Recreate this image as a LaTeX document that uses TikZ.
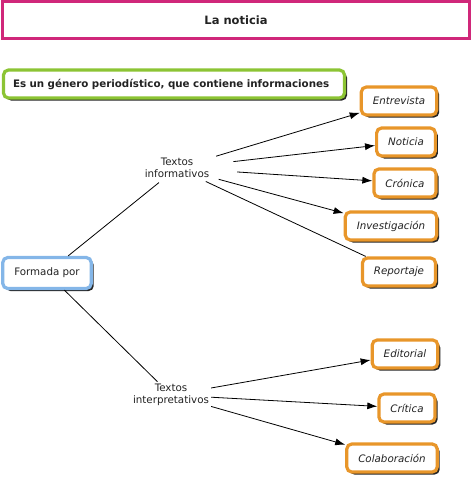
\documentclass[tikz,border=0pt]{standalone}
\usepackage{fontspec}
\setmainfont{DejaVu Sans}
\usetikzlibrary{shapes.geometric,shadows,arrows.meta}
\definecolor{rosa}{RGB}{208,40,122}
\definecolor{verde}{RGB}{140,196,52}
\definecolor{naranja}{RGB}{232,150,42}
\definecolor{azul}{RGB}{132,182,232}
\definecolor{texto}{RGB}{34,34,34}
\begin{document}
\begin{tikzpicture}[x=1pt,y=-1pt,font=\fontsize{10.3}{12.5}\selectfont,text=texto,
  caja/.style={draw=#1,line width=3.2pt,rounded corners=5pt,fill=white,
    drop shadow={shadow xshift=2.5pt,shadow yshift=-2.5pt,fill=black!85,opacity=1},
    minimum height=28pt,inner xsep=11.5pt},
  tipo/.style={caja=naranja,font=\fontsize{10.3}{12.5}\selectfont\itshape},
  rama/.style={align=center,inner sep=2pt},
  flecha/.style={-{Latex[length=10pt,width=7pt]},line width=0.8pt}]
\useasboundingbox(0,0)rectangle(474,477);
\node[draw=rosa,line width=3.5pt,fill=white,minimum width=467pt,minimum height=37pt,
  font=\fontsize{11.5}{13}\selectfont\bfseries](titulo)at(236,20){La noticia};
\node[caja=verde,minimum width=341pt,inner xsep=8pt,font=\fontsize{10.3}{12.5}\selectfont\bfseries,
  text width=322pt](def)at(174,84){Es un género periodístico, que contiene informaciones};
\node[caja=azul,minimum height=31pt](formada)at(47,273){Formada por};
\node[rama,ellipse,minimum width=124pt,minimum height=30pt,inner sep=0pt](info)at(177,168){Textos\\informativos};
\node[rama](interp)at(171,395){Textos\\interpretativos};
\node[tipo](entrevista)at(399,101){Entrevista};
\node[tipo](noticia)at(406,142){Noticia};
\node[tipo](cronica)at(405,183){Crónica};
\node[tipo](investigacion)at(391,226){Investigación};
\node[tipo](reportaje)at(399,272){Reportaje};
\node[tipo](editorial)at(405,354){Editorial};
\node[tipo](critica)at(407,408){Crítica};
\node[tipo](colaboracion)at(392,458){Colaboración};
\draw[line width=0.8pt](formada)--(info);
\draw[line width=0.8pt](formada)--(interp);
\draw[flecha](info)--(entrevista);
\draw[flecha](info)--(noticia);
\draw[flecha](info)--(cronica);
\draw[flecha](info)--(investigacion);
\draw[line width=0.8pt](info)--(reportaje);
\draw[flecha](interp)--(editorial);
\draw[flecha](interp)--(critica);
\draw[flecha](interp)--(colaboracion);
\end{tikzpicture}
\end{document}
